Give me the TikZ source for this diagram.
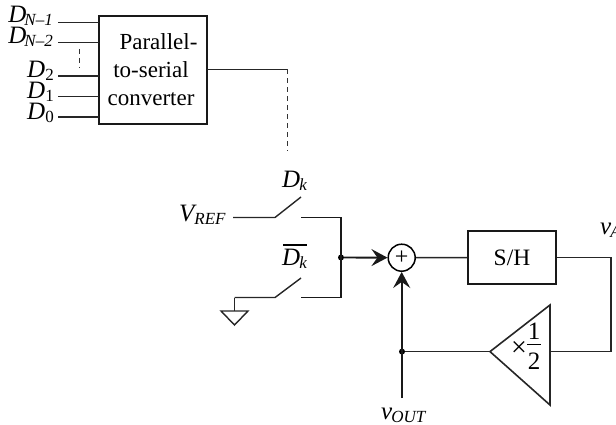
\documentclass[tikz,border=0pt]{standalone}
\usepackage{fontspec}
\setmainfont{Liberation Serif}
\usetikzlibrary{arrows.meta,calc}
\tikzset{
  wire/.style={line width=1.4pt,black!85},
  heavy/.style={line width=1.9pt,black!90},
  dashwire/.style={line width=1pt,black!80,dash pattern=on 5pt off 4pt},
  block/.style={draw=black!90,line width=1.6pt,inner sep=0pt},
  lbl/.style={inner sep=0pt,font=\fontsize{25}{28}\selectfont\itshape},
  dotj/.style={circle,fill=black,inner sep=0pt,minimum size=6pt},
  tip/.style={-{Stealth[length=16pt,width=17pt,inset=6pt]}},
}
\newcommand{\subs}[1]{\fontsize{17}{17}\selectfont #1}
\begin{document}
\begin{tikzpicture}[x=1pt,y=-1pt]
\useasboundingbox (0,0) rectangle (616,425);
\clip (0,0) rectangle (616,425);
% converter
\node[block,minimum width=108pt,minimum height=108pt] (conv) at (153,70) {};
\node[inner sep=0pt,align=center,font=\fontsize{23}{28}\selectfont] (convt) at (151,70) {\hspace*{15pt}Parallel-\\to-serial\\converter};
\coordinate (cN1) at (99,22.5); \coordinate (cN2) at (99,42.5);
\coordinate (c2) at (99,76); \coordinate (c1) at (99,96.5); \coordinate (c0) at (99,117);
\coordinate (fN1) at (58,22.5); \coordinate (fN2) at (58,42.5);
\coordinate (f2) at (58,76); \coordinate (f1) at (58,96.5); \coordinate (f0) at (58,117);
\draw[wire] (fN1)--(cN1); \draw[wire] (fN2)--(cN2); \draw[wire] (f2)--(c2); \draw[wire] (f1)--(c1); \draw[wire] (f0)--(c0);
\coordinate (da) at (79,49); \coordinate (db) at (79,68);
\draw[dashwire] (da)--(db);
\node[lbl,anchor=base east] (lN1) at (53,23) {D\kern-2pt\raisebox{-3pt}{\subs{N–1}}};
\node[lbl,anchor=base east] (lN2) at (53,44) {D\kern-2pt\raisebox{-3pt}{\subs{N–2}}};
\node[lbl,anchor=base east] (l2) at (54,78) {D\raisebox{-3pt}{\subs{\upshape 2}}};
\node[lbl,anchor=base east] (l1) at (54,99) {D\raisebox{-3pt}{\subs{\upshape 1}}};
\node[lbl,anchor=base east] (l0) at (54,120) {D\raisebox{-3pt}{\subs{\upshape 0}}};
\coordinate (bend) at (287,69.5); \coordinate (dend) at (287,151);
\draw[wire] (207,69.5) -- (bend);
\draw[dashwire] (bend)--(dend);
% switches
\node[lbl,anchor=base west] (vref) at (179,221) {V\raisebox{-3pt}{\subs{REF}}};
\node[lbl,anchor=base west] (dk) at (282,187) {D\kern-1pt\raisebox{-3pt}{\subs{k}}};
\node[lbl,anchor=base west] (dkb) at (282,265) {D\kern-1pt\raisebox{-3pt}{\subs{k}}};
\coordinate (ob1) at (283,245); \coordinate (ob2) at (307,245);
\draw[line width=1.3pt] (ob1)--(ob2);
\coordinate (s1a) at (233,217.5); \coordinate (s1b) at (275,217.5); \coordinate (s1t) at (301,197); \coordinate (s1c) at (301,217.5);
\coordinate (s2a) at (234.5,297.5); \coordinate (s2b) at (275,297.5); \coordinate (s2t) at (301,278); \coordinate (s2c) at (301,297.5);
\node[dotj] (jn) at (341,257.5) {};
\draw[wire] (s1a)--(s1b)--(s1t);
\draw[wire] (s2a)--(s2b)--(s2t);
\draw[heavy] (s1c)--(341,217.5)--(341,297.5)--(s2c);
% ground
\coordinate (g1) at (234.5,311); \coordinate (gl) at (221,311); \coordinate (gr) at (248,311); \coordinate (gb) at (234.5,325);
\draw[wire] (s2a)--(g1);
\draw[wire] (gl)--(gr)--(gb)--cycle;
% summer
\node[draw=black,line width=1.5pt,circle,minimum size=27pt,inner sep=0pt,font=\fontsize{24}{24}\selectfont] (sum) at (401.7,257.7) {+};
\draw[heavy,tip] (jn)--(sum);
% S/H
\node[block,minimum width=87.5pt,minimum height=53pt,font=\fontsize{23.5}{26}\selectfont] (sh) at (512,257.5) {S/H};
\draw[wire] (sum)--(sh);
% amp
\coordinate (tipA) at (490,351.6); \coordinate (ampT) at (550,305); \coordinate (ampB) at (550,405); \coordinate (ampR) at (550,351.6);
\draw[wire,line width=1.6pt,line join=miter] (tipA)--(ampT)--(ampB)--cycle;
\node[inner sep=0pt,font=\fontsize{28}{30}\selectfont] (half) at (519,349) {×};
\node[inner sep=0pt,font=\fontsize{25}{28}\selectfont] (one) at (534,331) {1};
\draw[line width=1.3pt] (527,344.5)--(541,344.5);
\node[inner sep=0pt,font=\fontsize{25}{28}\selectfont] (two) at (534,361) {2};
% feedback
\coordinate (rt) at (611,257.5); \coordinate (rb) at (611,351.6);
\draw[wire] (sh.east)--(rt)--(rb)--(ampR);
\node[dotj] (jf) at (402,351.6) {};
\draw[wire] (jf)--(tipA);
\coordinate (vo) at (401.7,398);
\draw[heavy,tip] (vo)--(sum);
\node[lbl,anchor=base west] (vout) at (381,419) {v\kern-1pt\raisebox{-3pt}{\subs{OUT}}};
\node[lbl,anchor=base west] (va) at (600,234) {v\kern-1pt\raisebox{-3pt}{\subs{A}}};
\end{tikzpicture}
\end{document}
